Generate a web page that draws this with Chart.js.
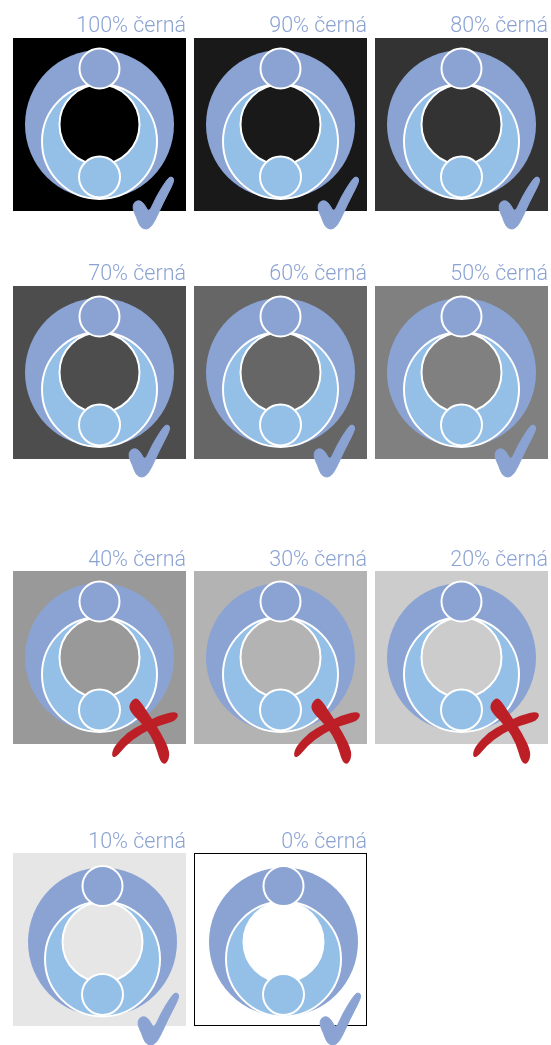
<!DOCTYPE html>
<html lang="cs">
<head>
<meta charset="utf-8">
<title>Logo na odstínech černé</title>
<script src="https://cdn.jsdelivr.net/npm/chart.js@4"></script>
<style>
  html, body { margin: 0; padding: 0; background: #fff; }
  body { position: relative; width: 551px; height: 1045px; overflow: hidden; }
  canvas { position: absolute; }
</style>
</head>
<body>
<script>
// values
const blackShare = [100, 90, 80, 70, 60, 50, 40, 30, 20, 10, 0];
const verdicts = ['ok', 'ok', 'ok', 'ok', 'ok', 'ok', 'no', 'no', 'no', 'ok', 'ok'];
const labelSuffix = '% černá';

// logo circles in logo units: outer ring, crescent, hole, top head, bottom head
const circleX = [0, 0, 0, 0, 0];
const circleY = [0, -17, 0, 56, -52.5];
const circleR = [74.5, 57.5, 40, 20, 20.5];

// page layout, one entry per panel
const panelLeft = [13, 194, 375, 13, 194, 375, 13, 194, 375, 13, 194];
const panelTop = [38, 38, 38, 286, 286, 286, 571, 571, 571, 853, 853];
const logoShiftX = [0, 0, 0, 0, 0, 0, 0, 0, 0, 3, 3];
const logoShiftY = [0, 0, 0, 0, 0, 0, 0, 0, 0, 2.5, 2.5];
const markShiftX = [0, 4, 4, -4, 0, 0, 0, 1, -1, 5, 6];
const markShiftY = [0, 0, 0, 0, 0, 0, 0, 0, 0, 1, 1];
const titleDrop = [0, 0, 0, 0.5, 0.5, 0.5, 1, 1, 1, 1.5, 1.5];

const PANEL = 173;
const TITLE_SPACE = 33;
const BELOW = 24;
const BLUE = '#8ba3d3';
const LIGHT = '#94bfe6';
const RED = '#bd1f27';

// outlines of the hand drawn marks, in panel pixels from the top left corner
const checkOutline = [[157, 138.5], [161, 140], [160, 146], [150, 165], [140, 187], [133.5, 192], [127, 189], [123.5, 179], [119.5, 170.5], [121, 164], [127, 162], [132, 167], [136, 175], [143, 159], [153, 143]];
const crossStrokeA = [[122, 128], [117, 135], [120, 142], [133.5, 155], [143.5, 172], [148.5, 190], [152.5, 192], [156, 182], [147, 163], [135, 144.5], [126, 131]];
const crossStrokeB = [[164.5, 141], [163, 149], [144, 154], [127, 162], [112, 174], [102, 186], [99.5, 184], [102, 176], [115, 162], [130, 154], [147, 145]];

function shade(p) {
  const v = Math.round(255 * (1 - p / 100));
  return 'rgb(' + v + ',' + v + ',' + v + ')';
}

function fillOutline(ctx, pts, fatten) {
  // closed smooth curve through the midpoints
  const n = pts.length;
  ctx.beginPath();
  ctx.moveTo((pts[n - 1][0] + pts[0][0]) / 2, (pts[n - 1][1] + pts[0][1]) / 2);
  for (let i = 0; i < n; i++) {
    const a = pts[i], b = pts[(i + 1) % n];
    ctx.quadraticCurveTo(a[0], a[1], (a[0] + b[0]) / 2, (a[1] + b[1]) / 2);
  }
  ctx.closePath();
  ctx.fill();
  ctx.lineWidth = fatten;
  ctx.lineJoin = 'round';
  ctx.stroke();
}

const panelPlugin = {
  id: 'panel',
  beforeDatasetsDraw(chart, args, opts) {
    const a = chart.chartArea, ctx = chart.ctx;
    ctx.save();
    ctx.fillStyle = shade(opts.share);
    ctx.fillRect(a.left, a.top, a.width, a.height);
    if (opts.share === 0) {
      ctx.strokeStyle = '#000';
      ctx.lineWidth = 1;
      ctx.strokeRect(a.left + 0.5, a.top + 0.5, a.width - 1, a.height - 1);
    }
    ctx.restore();
  },
  afterDraw(chart, args, opts) {
    const a = chart.chartArea, ctx = chart.ctx;
    ctx.save();
    ctx.translate(a.left + opts.dx, a.top + opts.dy);
    if (opts.verdict === 'ok') {
      ctx.fillStyle = ctx.strokeStyle = BLUE;
      fillOutline(ctx, checkOutline, 1);
    } else {
      ctx.fillStyle = ctx.strokeStyle = RED;
      fillOutline(ctx, crossStrokeA, 3);
      fillOutline(ctx, crossStrokeB, 2);
    }
    ctx.restore();
  }
};

blackShare.forEach(function (share, i) {
  const canvas = document.createElement('canvas');
  canvas.width = PANEL;
  canvas.height = TITLE_SPACE + PANEL + BELOW;
  canvas.style.left = panelLeft[i] + 'px';
  canvas.style.top = (panelTop[i] - TITLE_SPACE) + 'px';
  document.body.appendChild(canvas);

  const half = PANEL / 2;
  new Chart(canvas.getContext('2d'), {
    type: 'bubble',
    data: {
      datasets: [{
        data: circleX.map(function (x, k) {
          return { x: x, y: circleY[k], r: circleR[k] };
        }),
        backgroundColor: [BLUE, LIGHT, shade(share), BLUE, LIGHT],
        borderColor: '#fff',
        borderWidth: [0, 2, 2, 2, 2],
        clip: false
      }]
    },
    options: {
      responsive: false,
      animation: false,
      events: [],
      // bubbles would otherwise shrink the plot area by their radius
      layout: { autoPadding: false, padding: { top: 0, left: 0, right: 0, bottom: BELOW } },
      scales: {
        x: { display: false, min: -half - logoShiftX[i], max: half - logoShiftX[i] },
        y: { display: false, min: -half + logoShiftY[i], max: half + logoShiftY[i] }
      },
      plugins: {
        legend: { display: false },
        tooltip: { enabled: false },
        title: {
          display: true,
          text: share + labelSuffix,
          align: 'end',
          color: BLUE,
          font: { family: 'Roboto', size: 21.5, weight: '300', lineHeight: 0.9 },
          padding: { top: 11.8 + titleDrop[i], bottom: 1.85 - titleDrop[i] }
        },
        panel: { share: share, verdict: verdicts[i], dx: markShiftX[i], dy: markShiftY[i] }
      }
    },
    plugins: [panelPlugin]
  });
});
</script>
</body>
</html>
